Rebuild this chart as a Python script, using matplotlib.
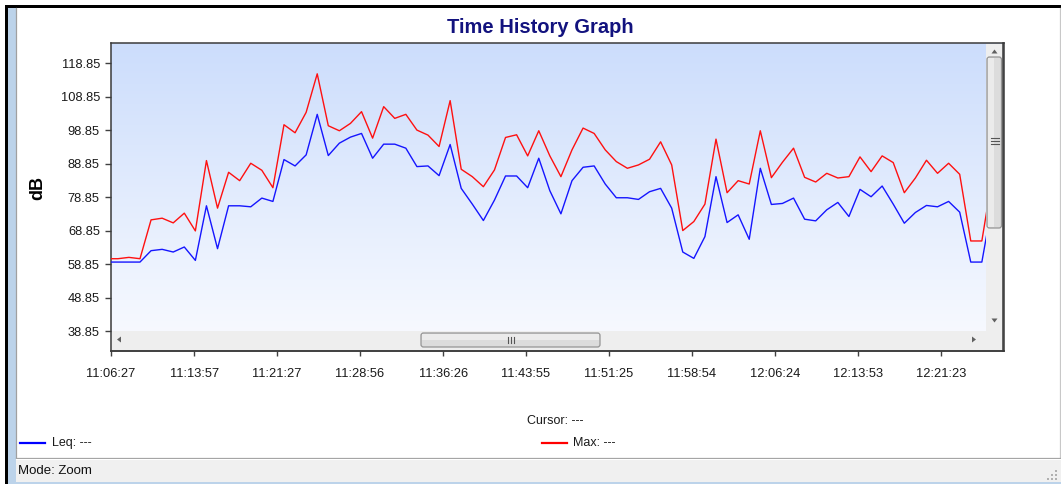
import datetime as dt
import matplotlib
matplotlib.use("Agg")
import matplotlib.pyplot as plt
import matplotlib.dates as mdates
from matplotlib.patches import Rectangle, FancyBboxPatch, Polygon
import numpy as np
import pandas as pd

plt.rcParams['font.family'] = ['Liberation Sans', 'DejaVu Sans']

# one-minute samples, first one just before the left edge of the view
sample_start = "2024-01-01 11:06:04"
view_start = "2024-01-01 11:06:27"
view_end = "2024-01-01 12:27:04"

leq = [59.5, 59.5, 59.5, 59.5, 62.9, 63.3, 62.5, 64.0, 60.0, 76.3,
       63.5, 76.3, 76.3, 76.0, 78.6, 77.6, 90.1, 88.2, 91.5, 103.6,
       91.3, 95.0, 96.8, 97.9, 90.5, 94.7, 94.7, 93.5, 88.0, 88.2,
       85.3, 94.6, 81.5, 76.8, 71.9, 78.0, 85.2, 85.2, 81.7, 90.5,
       80.8, 73.9, 83.8, 87.8, 88.2, 82.8, 78.7, 78.7, 78.2, 80.5,
       81.5, 75.6, 62.5, 60.6, 67.1, 85.0, 71.3, 73.6, 66.3, 87.5,
       76.7, 77.0, 78.6, 72.3, 71.8, 75.1, 77.3, 73.1, 81.2, 79.0,
       82.2, 76.8, 71.1, 74.3, 76.4, 76.0, 77.6, 74.4, 59.5, 59.5,
       78.0]

lmax = [60.5, 60.5, 60.9, 60.5, 72.1, 72.6, 71.2, 74.1, 68.8, 89.8,
        75.6, 86.3, 83.8, 89.0, 86.9, 81.7, 100.5, 98.1, 104.2, 115.7,
        100.2, 98.7, 100.9, 104.4, 96.5, 105.9, 102.4, 103.6, 98.9, 97.4,
        94.0, 107.7, 87.2, 85.0, 82.0, 87.0, 96.7, 97.5, 91.2, 98.7,
        91.2, 85.0, 93.0, 99.5, 97.9, 93.0, 89.5, 87.5, 88.5, 90.2,
        95.4, 88.5, 68.9, 71.6, 76.8, 96.2, 80.2, 83.8, 82.8, 98.7,
        84.7, 89.3, 93.5, 84.8, 83.4, 86.0, 84.6, 85.0, 90.9, 86.5,
        91.2, 89.2, 80.2, 84.6, 89.9, 86.0, 89.0, 85.7, 65.8, 65.8,
        86.0]

tick_labels = ["11:06:27", "11:13:57", "11:21:27", "11:28:56", "11:36:26",
               "11:43:55", "11:51:25", "11:58:54", "12:06:24", "12:13:53",
               "12:21:23"]
y_ticks = [38.85, 48.85, 58.85, 68.85, 78.85, 88.85, 98.85, 108.85, 118.85]

W, H = 1061, 484
fig = plt.figure(figsize=(W / 100, H / 100), dpi=100)
fig.patch.set_facecolor('white')


def box(x0, y0, x1, y1):
    # pixel box (top-left origin) -> figure fraction rect
    return [x0 / W, 1 - y1 / H, (x1 - x0) / W, (y1 - y0) / H]


times = pd.date_range(sample_start, periods=len(leq), freq="60s")

ax = fig.add_axes(box(111, 43, 1004, 351))
grad = np.linspace(0, 1, 256)[:, None]
top = np.array([0.800, 0.867, 0.988])
bot = np.array([0.978, 0.984, 1.0])
img = top[None, None, :] * (1 - grad[..., None]) + bot[None, None, :] * grad[..., None]
ax.imshow(img, extent=[0, 1, 0, 1], transform=ax.transAxes, aspect='auto', zorder=0)

ax.plot(times, lmax, color='#FF1010', lw=1.0, zorder=3)
ax.plot(times, leq, color='#1515FF', lw=1.0, zorder=4)

ax.set_xlim(pd.Timestamp(view_start), pd.Timestamp(view_end))
ax.set_ylim(32.95, 124.9)
ax.set_yticks(y_ticks)
ax.set_yticklabels([f"{v:.2f}" for v in y_ticks])
tick_pos = [pd.Timestamp("2024-01-01 " + s) for s in tick_labels]
ax.set_xticks(tick_pos)
ax.set_xticklabels(tick_labels)
ax.tick_params(axis='both', direction='out', colors='#404040', labelcolor='#1a1a1a',
               labelsize=9.3, width=1.0)
ax.tick_params(axis='y', length=4.5, pad=3.5)
ax.tick_params(axis='x', length=3.5, pad=9)
for s in ax.spines.values():
    s.set_color('#3a3a3a')
    s.set_linewidth(1.1)

# overlay in pixel coordinates for window chrome and scrollbars
ov = fig.add_axes([0, 0, 1, 1], zorder=10)
ov.set_xlim(0, W)
ov.set_ylim(H, 0)
ov.axis('off')
ov.patch.set_alpha(0)

# window frame
ov.add_patch(Rectangle((5, 4.5), W - 5, 3, color='black', lw=0))
ov.add_patch(Rectangle((4.5, 4.5), 3, H, color='black', lw=0))
ov.add_patch(Rectangle((7.5, 7.5), 8, H, color='#BCD3EA', lw=0))
ov.add_patch(Rectangle((7.5, 481.5), W, 3, color='#BCD3EA', lw=0))
ov.plot([16, 16], [7.5, 458], color='#A0A0A0', lw=0.9)
ov.plot([1059.5, 1059.5], [7.5, 458], color='#C8C8C8', lw=0.9)
ov.plot([16, W], [457.5, 457.5], color='#A0A0A0', lw=0.9)
ov.add_patch(Rectangle((15.5, 459), W, 22.5, color='#F0F0F0', lw=0))
ov.plot([15.5, W], [459.2, 459.2], color='#FFFFFF', lw=0.8)
ov.text(18, 470.5, "Mode: Zoom", fontsize=9.5, va='center', ha='left', color='#111111')
for gx, gy in [(1055, 478), (1051, 478), (1055, 474), (1047, 478), (1051, 474), (1055, 470)]:
    ov.add_patch(Rectangle((gx, gy), 1.5, 1.5, color='#B0B0B0', lw=0))

# titles and captions
ov.text(540, 27.5, "Time History Graph", fontsize=14.5, fontweight='bold',
        color='#12127E', ha='center', va='center')
ov.text(38, 188, "dB", fontsize=13, fontweight='bold', rotation=90,
        ha='center', va='center', color='black')
ov.text(527, 420.5, "Cursor: ---", fontsize=9, ha='left', va='center', color='#1a1a1a')
ov.plot([20, 45], [442.5, 442.5], color='#0000FF', lw=1.6)
ov.text(52, 443, "Leq: ---", fontsize=9, ha='left', va='center', color='#1a1a1a')
ov.plot([542, 567], [442.5, 442.5], color='#FF0000', lw=1.6)
ov.text(573, 443, "Max: ---", fontsize=9, ha='left', va='center', color='#1a1a1a')

# horizontal scrollbar
ov.add_patch(Rectangle((111.5, 331), 874, 19, color='#EEEEEE', lw=0))
ov.add_patch(Polygon([[117, 339.5], [121, 336.5], [121, 342.5]], color='#606060', lw=0))
ov.add_patch(Polygon([[976, 339.5], [972, 336.5], [972, 342.5]], color='#606060', lw=0))
ov.add_patch(FancyBboxPatch((421, 333), 179, 14, boxstyle="round,pad=0,rounding_size=2.5",
                            fc='#DCDCDC', ec='#959595', lw=0.9))
ov.add_patch(Rectangle((422, 334), 177, 6, color='#EBEBEB', lw=0))
for gx in (507.5, 510.5, 513.5):
    ov.plot([gx, gx], [337, 342.5], color='#555555', lw=0.8)

# vertical scrollbar
ov.add_patch(Rectangle((985.5, 43.7), 17.6, 306.3, color='#EEEEEE', lw=0))
ov.add_patch(Polygon([[994.5, 49.5], [991.5, 53.5], [997.5, 53.5]], color='#606060', lw=0))
ov.add_patch(Polygon([[994.5, 322.5], [991.5, 318.5], [997.5, 318.5]], color='#606060', lw=0))
ov.add_patch(FancyBboxPatch((987, 57), 14.5, 171, boxstyle="round,pad=0,rounding_size=2.5",
                            fc='#DCDCDC', ec='#959595', lw=0.9))
ov.add_patch(Rectangle((988, 58), 6, 169, color='#EBEBEB', lw=0))
for gy in (137.5, 140.5, 143.5):
    ov.plot([990.5, 998.5], [gy, gy], color='#555555', lw=0.8)
ov.plot([1003.4, 1003.4], [43, 351], color='#3a3a3a', lw=1.1)
ov.plot([111, 1004], [350.6, 350.6], color='#3a3a3a', lw=1.1)

fig.savefig("out.png", dpi=100)
